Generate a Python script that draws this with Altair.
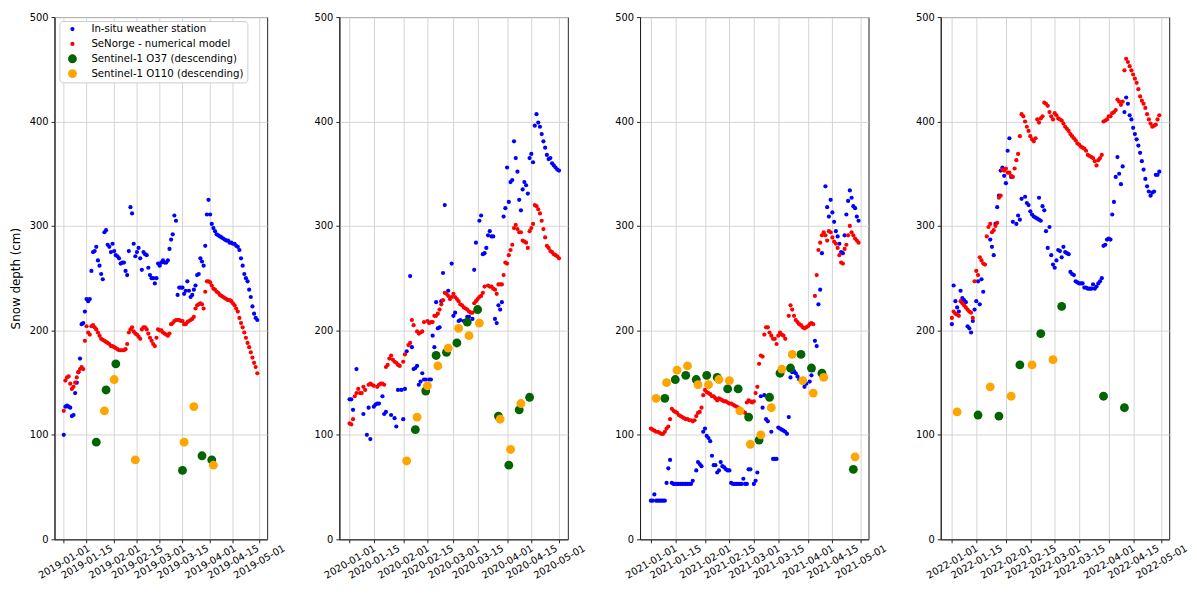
import altair as alt
import pandas as pd

SERIES = ["In-situ weather station", "SeNorge - numerical model",
          "Sentinel-1 O37 (descending)", "Sentinel-1 O110 (descending)"]
COLORS = ["#0000ff", "#ff0000", "#006400", "#ffa500"]
SIZES = [18, 18, 80, 80]
YEARS = [2019, 2020, 2021, 2022]
TICK_DATES = ["01-01", "01-15", "02-01", "02-15", "03-01", "03-15", "04-01", "04-15", "05-01"]

# ---------------- 2019 ----------------
INSITU_2019_DAYS = list(range(120))
INSITU_2019 = [100, 127, 128, 127, 126, 118, 119, 140, 150, 160,
               173, 206, 207, 218, 230, 228, 230, 257, 275, 276,
               280, 267, 262, 254, 249, 294, 296, 282, 280, 275,
               283, 276, 272, 271, 269, 264, 265, 265, 257, 253,
               276, 318, 312, 283, 271, 275, 279, 269, 258, 275,
               273, 272, 260, 253, 250, 250, 245, 250, 264, 262,
               265, 267, 265, 265, 267, 278, 287, 292, 310, 305,
               234, 241, 241, 241, 235, 238, 247, 238, 232, 234,
               239, 243, 253, 254, 269, 266, 262, 281, 311, 325,
               311, 302, 298, 295, 292, 291, 290, 289, 288, 287,
               286, 286, 284, 284, 283, 283, 281, 280, 277, 269,
               262, 254, 250, 247, 239, 232, 223, 216, 212, 210]
SENORGE_2019_DAYS = list(range(120))
SENORGE_2019 = [123, 152, 155, 156, 149, 144, 146, 150, 155, 160,
                163, 165, 163, 190, 204, 198, 196, 204, 205, 203,
                201, 198, 195, 192, 191, 190, 189, 188, 187, 185,
                185, 184, 183, 182, 181, 181, 181, 181, 182, 187,
                198, 201, 203, 199, 197, 196, 194, 192, 201, 203,
                203, 201, 197, 193, 190, 187, 185, 193, 201, 200,
                200, 198, 197, 196, 195, 197, 206, 207, 209, 210,
                210, 210, 209, 209, 206, 206, 208, 209, 210, 211,
                213, 221, 224, 225, 226, 225, 221, 237, 247, 247,
                246, 243, 240, 239, 237, 236, 234, 233, 232, 231,
                230, 229, 229, 228, 226, 224, 221, 218, 212, 207,
                203, 198, 193, 188, 184, 179, 174, 169, 165, 159]
O37_2019_DAYS = [20, 26, 32, 73, 85, 91]
O37_2019 = [93, 143, 168, 66, 80, 76]
O110_2019_DAYS = [25, 31, 44, 74, 80, 92]
O110_2019 = [123, 153, 76, 93, 127, 71]

# ---------------- 2020 ----------------
INSITU_2020_DAYS = [0, 1, 2, 4, 8, 10, 11, 12, 14, 15, 16, 17, 19, 20, 21, 24, 26, 27, 28, 30,
                    31, 32, 33, 35, 36, 37, 38, 39, 40, 41, 42, 43, 44, 46, 47, 48, 49, 50, 51, 52,
                    53, 54, 55, 57, 59, 60, 61, 63, 64, 66, 68, 69, 71, 72, 73, 75, 76, 77, 78, 79,
                    80, 81, 82, 83, 84, 85, 86, 87, 88, 89, 90, 91, 92, 93, 94, 95, 96, 97, 98, 99,
                    100, 101, 102, 103, 104, 105, 106, 107, 108, 109, 110, 111, 112, 113, 114, 115,
                    116, 117, 118, 119, 120, 121]
INSITU_2020 = [134, 134, 124, 163, 120, 100, 126, 96, 127, 129, 130, 130, 137, 120, 122, 119, 116, 108, 143, 143,
               115, 144, 180, 252, 184, 163, 164, 166, 148, 151, 159, 153, 153, 153, 153, 195, 184, 227, 202, 203,
               228, 255, 320, 238, 264, 214, 217, 209, 210, 209, 213, 213, 211, 258, 284, 305, 310, 273, 274, 279,
               291, 295, 290, 290, 211, 207, 224, 220, 227, 309, 317, 356, 323, 342, 344, 381, 365, 352, 325, 315,
               335, 342, 339, 331, 365, 369, 361, 396, 407, 399, 395, 388, 381, 375, 368, 364,
               365, 360, 358, 356, 354, 353]
SENORGE_2020_DAYS = [0, 1, 2, 3, 4, 5, 6, 7, 8, 9, 11, 12, 13, 14, 16, 17, 18, 19, 20, 21,
                     22, 23, 24, 25, 26, 27, 28, 29, 31, 32, 34, 35, 36, 37, 39, 40, 41, 42, 43, 45,
                     46, 47, 48, 49, 50, 51, 52, 53, 54, 55, 56, 57, 58, 59, 60, 61, 62, 63, 64, 65,
                     66, 67, 68, 69, 70, 71, 72, 73, 74, 75, 76, 77, 78, 80, 81, 82, 83, 84, 85, 86,
                     87, 88, 89, 90, 91, 92, 93, 94, 95, 96, 97, 98, 99, 100, 101, 102, 103, 104, 105, 106,
                     107, 108, 109, 110, 111, 112, 113, 114, 115, 116, 117, 118, 119, 120, 121]
SENORGE_2020 = [111, 110, 115, 137, 140, 144, 140, 140, 146, 143, 148, 149, 148, 147, 146, 148, 149, 149, 148, 165,
                167, 173, 176, 172, 170, 169, 167, 166, 170, 177, 186, 188, 210, 205, 199, 197, 198, 199, 208, 209,
                207, 208, 208, 214, 214, 216, 220, 225, 229, 236, 235, 233, 230, 232, 235, 232, 230, 228, 225, 224,
                222, 221, 220, 218, 217, 217, 226, 228, 230, 232, 233, 236, 242, 243, 242, 242, 240, 239, 235, 244,
                244, 244, 253, 265, 264, 272, 277, 282, 298, 301, 297, 294, 294, 286, 285, 284, 279, 295, 298, 302,
                320, 319, 316, 312, 305, 297, 289, 281, 279, 276, 275, 273, 272, 271, 269]
O37_2020_DAYS = [38, 44, 50, 56, 62, 68, 74, 86, 92, 98, 104]
O37_2020 = [105, 142, 176, 179, 188, 208, 220, 118, 71, 124, 136]
O110_2020_DAYS = [33, 39, 45, 51, 57, 63, 69, 75, 87, 93, 99]
O110_2020 = [75, 117, 147, 166, 183, 202, 195, 207, 115, 86, 130]

# ---------------- 2021 ----------------
INSITU_2021_DAYS = [0, 1, 2, 3, 4, 5, 6, 7, 8, 9, 10, 11, 12, 13, 14, 15, 16, 17, 18, 19,
                    20, 21, 22, 23, 24, 26, 27, 28, 29, 30, 31, 32, 33, 34, 35, 36, 37, 38, 39, 40,
                    41, 42, 43, 44, 45, 46, 47, 48, 49, 50, 51, 52, 53, 54, 55, 56, 57, 59, 60, 61,
                    63, 64, 65, 66, 67, 69, 70, 71, 72, 73, 74, 75, 76, 77, 78, 79, 80, 81, 82, 83,
                    84, 85, 87, 88, 89, 91, 92, 93, 94, 95, 96, 97, 98, 100, 101, 102, 103, 104, 105, 106,
                    107, 108, 109, 110, 111, 112, 113, 114, 115, 116, 117, 118, 119]
INSITU_2021 = [37, 37, 43, 37, 37, 37, 37, 37, 37, 54, 68, 76, 54, 53, 53, 53, 53, 53, 53, 53,
               53, 53, 53, 53, 56, 66, 74, 72, 70, 103, 106, 99, 97, 94, 80, 71, 71, 64, 66, 74,
               70, 69, 67, 66, 66, 54, 53, 53, 53, 53, 53, 53, 58, 53, 53, 67, 67, 53, 56, 64,
               137, 126, 138, 115, 113, 103, 77, 77, 77, 107, 106, 105, 104, 103, 101, 117, 155, 160, 161, 159,
               156, 153, 150, 146, 149, 151, 157, 162, 190, 185, 225, 239, 274, 338, 318, 309, 325, 313, 304, 295,
               290, 283, 275, 274, 291, 311, 324, 334, 327, 319, 317, 309, 305]
SENORGE_2021_DAYS = [0, 1, 2, 3, 4, 5, 6, 7, 8, 9, 10, 11, 12, 13, 14, 15, 16, 17, 18, 19,
                     20, 21, 22, 23, 24, 25, 26, 27, 28, 29, 30, 31, 32, 33, 34, 35, 36, 37, 38, 39,
                     40, 41, 42, 43, 44, 45, 46, 47, 48, 49, 50, 51, 52, 53, 54, 55, 56, 57, 58, 59,
                     60, 61, 62, 63, 64, 65, 66, 67, 68, 69, 70, 71, 72, 73, 74, 75, 76, 77, 79, 80,
                     81, 82, 83, 84, 85, 86, 87, 88, 89, 90, 91, 92, 93, 94, 95, 96, 97, 98, 99, 100,
                     101, 102, 103, 104, 105, 106, 107, 108, 109, 110, 111, 112, 113, 114, 115, 116, 117, 118, 119]
SENORGE_2021 = [106, 105, 104, 103, 103, 102, 101, 101, 103, 106, 108, 115, 125, 123, 122, 121, 119, 118, 117, 116,
                115, 115, 114, 114, 113, 114, 118, 121, 122, 126, 138, 143, 141, 140, 139, 137, 137, 135, 133, 135,
                134, 133, 132, 132, 131, 130, 130, 129, 128, 127, 126, 124, 123, 122, 121, 131, 133, 132, 131, 132,
                140, 146, 168, 176, 175, 196, 203, 203, 198, 195, 192, 192, 187, 195, 198, 196, 195, 192, 214, 224,
                220, 214, 210, 208, 206, 205, 203, 202, 203, 204, 206, 207, 206, 233, 253, 277, 284, 291, 294, 291,
                286, 295, 294, 289, 285, 283, 279, 272, 265, 264, 278, 282, 291, 300, 294, 291, 288, 286, 284]
O37_2021_DAYS = [8, 14, 20, 26, 32, 38, 44, 50, 56, 62, 68, 74, 80, 86, 92, 98, 116]
O37_2021 = [135, 153, 157, 153, 157, 155, 144, 144, 117, 95, 136, 159, 164, 177, 164, 159, 67]
O110_2021_DAYS = [3, 9, 15, 21, 27, 33, 39, 45, 51, 57, 63, 69, 75, 81, 87, 93, 99, 117]
O110_2021 = [135, 150, 162, 166, 148, 148, 153, 152, 123, 91, 100, 126, 163, 177, 152, 140, 155, 79]

# ---------------- 2022 ----------------
INSITU_2022_DAYS = [0, 1, 2, 3, 4, 5, 6, 7, 8, 9, 10, 11, 12, 13, 14, 15, 16, 17, 18, 22,
                    23, 24, 25, 26, 27, 28, 29, 30, 31, 32, 33, 34, 35, 37, 38, 39, 40, 42, 43, 44,
                    45, 46, 47, 48, 49, 50, 50, 51, 52, 53, 54, 55, 56, 57, 58, 59, 60, 61, 62, 63,
                    64, 65, 66, 67, 68, 69, 70, 71, 72, 73, 74, 75, 76, 77, 78, 79, 80, 81, 82, 83,
                    84, 85, 86, 87, 88, 89, 90, 91, 92, 93, 94, 95, 96, 97, 98, 99, 100, 101, 102, 103,
                    104, 105, 106, 107, 108, 109, 110, 111, 112, 113, 114, 115, 116, 117, 118, 119]
INSITU_2022 = [206, 243, 228, 222, 218, 238, 231, 229, 227, 204, 202, 198, 209, 220, 228, 247, 225, 249, 237, 287,
               280, 272, 302, 318, 329, 353, 356, 348, 341, 372, 384, 347, 304, 302, 310, 306, 326, 328, 322, 320,
               314, 311, 309, 308, 307, 306, 327, 305, 319, 315, 295, 279, 299, 272, 263, 260, 267, 277, 276, 270,
               280, 275, 274, 273, 256, 254, 253, 247, 246, 245, 245, 245, 241, 241, 240, 240, 240, 244, 240, 242,
               245, 247, 250, 281, 282, 287, 288, 287, 311, 323, 347, 366, 350, 340, 357, 409, 423, 417, 406, 402,
               394, 388, 383, 377, 370, 362, 354, 345, 338, 333, 329, 332, 333, 349, 349, 352]
SENORGE_2022_DAYS = list(range(120))
SENORGE_2022 = [212, 218, 216, 215, 214, 228, 226, 224, 222, 220,
                218, 217, 212, 247, 257, 253, 270, 267, 264, 263,
                290, 299, 302, 294, 296, 300, 303, 327, 329, 354,
                353, 355, 351, 351, 348, 347, 355, 363, 369, 386,
                407, 405, 400, 395, 391, 386, 383, 381, 384, 402,
                399, 403, 405, 418, 417, 415, 409, 405, 402, 408,
                406, 403, 402, 401, 398, 395, 393, 391, 388, 386,
                384, 382, 379, 378, 376, 375, 374, 372, 368, 367,
                366, 365, 362, 358, 363, 365, 368, 400, 401, 402,
                405, 405, 408, 409, 411, 421, 419, 416, 419, 449,
                460, 457, 453, 449, 445, 441, 437, 431, 424, 420,
                417, 413, 407, 402, 398, 395, 396, 397, 402, 406]
O37_2022_DAYS = [15, 27, 39, 51, 63, 87, 99]
O37_2022 = [119, 118, 167, 197, 223, 137, 126]
O110_2022_DAYS = [3, 22, 34, 46, 58]
O110_2022 = [122, 146, 137, 167, 172]

PANEL_DATA = {
    2019: [(INSITU_2019_DAYS, INSITU_2019), (SENORGE_2019_DAYS, SENORGE_2019),
           (O37_2019_DAYS, O37_2019), (O110_2019_DAYS, O110_2019)],
    2020: [(INSITU_2020_DAYS, INSITU_2020), (SENORGE_2020_DAYS, SENORGE_2020),
           (O37_2020_DAYS, O37_2020), (O110_2020_DAYS, O110_2020)],
    2021: [(INSITU_2021_DAYS, INSITU_2021), (SENORGE_2021_DAYS, SENORGE_2021),
           (O37_2021_DAYS, O37_2021), (O110_2021_DAYS, O110_2021)],
    2022: [(INSITU_2022_DAYS, INSITU_2022), (SENORGE_2022_DAYS, SENORGE_2022),
           (O37_2022_DAYS, O37_2022), (O110_2022_DAYS, O110_2022)],
}

# layout (pixels / day margins) per panel
PANEL_WIDTH = {2019: 215, 2020: 231, 2021: 231, 2022: 231}
PANEL_MARGIN = {2019: (5.7, 5.05), 2020: (5.9, 5.1), 2021: (6.2, 4.7), 2022: (6.4, 4.7)}
PANEL_HEIGHT = 528


def ms(ts):
    return int(ts.value // 10**6)


def build_frame(year):
    base = pd.Timestamp(f"{year}-01-01")
    rows = []
    for k, (days, vals) in enumerate(PANEL_DATA[year]):
        for d, v in zip(days, vals):
            rows.append({"date": (base + pd.Timedelta(days=d)).strftime("%Y-%m-%d"),
                         "depth": v, "series": SERIES[k]})
    return pd.DataFrame(rows)


def panel(year, first):
    df = build_frame(year)
    jan1 = pd.Timestamp(f"{year}-01-01")
    may1 = pd.Timestamp(f"{year}-05-01")
    m0, m1 = PANEL_MARGIN[year]
    domain = [ms(jan1 - pd.Timedelta(days=m0)), ms(may1 + pd.Timedelta(days=m1))]
    ticks = [ms(pd.Timestamp(f"{year}-{t}")) for t in TICK_DATES]

    if first:
        leg = alt.Legend(orient="none", legendX=5, legendY=4, title=None,
                         strokeColor="#cccccc", fillColor="white", padding=3,
                         cornerRadius=3, labelFont="DejaVu Sans", labelFontSize=10.3,
                         labelColor="black", rowPadding=4, labelOffset=14,
                         symbolOffset=5, symbolStrokeWidth=0, symbolOpacity=1)
    else:
        leg = None

    enc_color = alt.Color("series:N", scale=alt.Scale(domain=SERIES, range=COLORS),
                          legend=leg, title=None)
    enc_size = alt.Size("series:N",
                        scale=alt.Scale(type="ordinal", domain=SERIES, range=SIZES),
                        legend=leg, title=None)

    chart = alt.Chart(df).mark_circle(opacity=1, strokeWidth=0).encode(
        x=alt.X("date:T", title=None,
                scale=alt.Scale(type="utc", domain=domain, nice=False),
                axis=alt.Axis(values=ticks, format="%Y-%m-%d", labelAngle=330,
                              labelAlign="center", labelBaseline="middle",
                              labelPadding=19, labelOverlap=False, labelFlush=False,
                              labelBound=False, grid=True)),
        y=alt.Y("depth:Q", title="Snow depth (cm)" if first else None,
                scale=alt.Scale(domain=[0, 500], nice=False, zero=True),
                axis=alt.Axis(values=[0, 100, 200, 300, 400, 500], grid=True,
                              titlePadding=7, labelPadding=3)),
        color=enc_color,
        size=enc_size,
    ).properties(width=PANEL_WIDTH[year], height=PANEL_HEIGHT)
    return chart


charts = [panel(y, i == 0) for i, y in enumerate(YEARS)]

chart = alt.hconcat(*charts, spacing=26).resolve_scale(
    color="independent", size="independent"
).properties(
    padding={"left": 0, "top": 0, "right": 0, "bottom": 0}
).configure_axis(
    labelFont="DejaVu Sans", labelFontSize=10, labelColor="black",
    titleFont="DejaVu Sans", titleFontSize=12, titleFontWeight="normal", titleColor="black",
    gridColor="#d0d0d0", gridWidth=0.9, domainColor="#222222", tickColor="#222222",
    tickSize=3.5, domainWidth=1,
).configure_view(
    stroke="#222222", strokeWidth=1
)

chart.save("out.html", embed_options={"renderer": "svg", "actions": False})
